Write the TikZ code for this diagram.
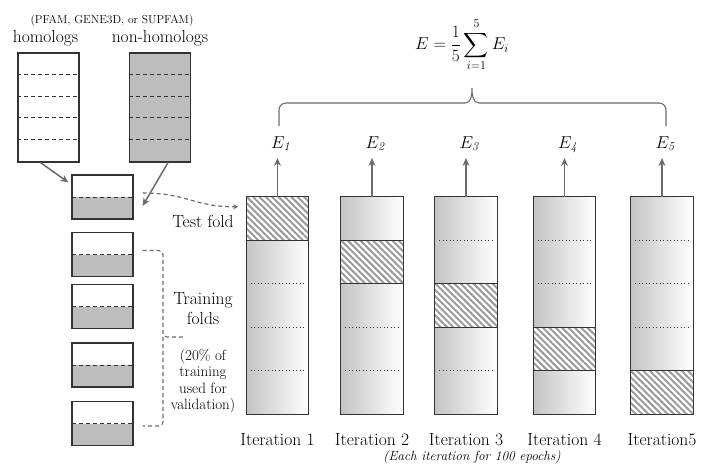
\documentclass[tikz,border=0pt]{standalone}
\usepackage{amsmath}
\usetikzlibrary{arrows.meta,patterns.meta,positioning}
\definecolor{ink}{HTML}{333333}
\definecolor{arrowgray}{HTML}{6B6B6B}
\definecolor{foldgray}{HTML}{BDBDBD}
\definecolor{colgray}{HTML}{C4C4C4}
\definecolor{hatchgray}{HTML}{9A9A9A}

\tikzset{
  txt/.style={font=\fontsize{17.5}{20}\selectfont},
  note/.style={font=\fontsize{15}{16.5}\selectfont},
  dbnote/.style={font=\fontsize{11.5}{14}\selectfont},
  epochs/.style={font=\fontsize{13.3}{15}\selectfont\itshape},
  elbl/.style={font=\fontsize{17}{18}\selectfont, inner sep=0pt, anchor=base},
  srcbox/.style={draw=ink, line width=1.2pt, minimum width=61pt, minimum height=109pt, inner sep=0pt},
  foldbox/.style={draw=ink, line width=1.2pt, minimum width=61pt, minimum height=44pt, inner sep=0pt,
    path picture={
      \fill[foldgray] (path picture bounding box.west) rectangle (path picture bounding box.south east);
      \draw[divline] (path picture bounding box.west) -- (path picture bounding box.east);}},
  divline/.style={ink, line width=0.8pt, dash pattern=on 4pt off 3pt},
  colbox/.style={minimum width=62pt, minimum height=217pt, inner sep=0pt, left color=colgray, right color=white},
  hatch/.style={pattern={Lines[angle=-45,distance=4.5pt,line width=2pt]}, pattern color=hatchgray},
  frame/.style={ink, line width=1.2pt},
  segline/.style={ink, line width=1.2pt},
  dotline/.style={ink, line width=0.9pt, dash pattern=on 1pt off 2.5pt, shorten <=4pt, shorten >=2pt},
  fetch/.style={arrowgray, line width=1.5pt, -{Stealth[length=8pt,width=7pt]}},
  testarrow/.style={arrowgray, line width=1.2pt, dash pattern=on 4pt off 3pt, -{Stealth[length=5pt,width=5pt]}},
  valbrace/.style={arrowgray, line width=1.1pt, dash pattern=on 4pt off 3pt, rounded corners=4pt},
  ebrace/.style={arrowgray, line width=1.1pt}
}

\begin{document}
\begin{tikzpicture}[x=1pt,y=-1pt]
    \useasboundingbox (0,0) rectangle (712,472);

    % source sets
    \node[dbnote] (srclbl) at (112,21) {(PFAM, GENE3D, or SUPFAM)};
    \node[txt] (homlbl) at (45.5,38) {homologs};
    \node[txt] (nonlbl) at (160,38) {non-homologs};
    \node[srcbox] (hom) at (48.5,107.5) {};
    \node[srcbox, fill=foldgray] (nonhom) at (160,107.5) {};
    \foreach \s in {hom,nonhom}
      \foreach \k in {1,...,4}
        \draw[divline] ([yshift=-\k*21.8pt]\s.north west) -- ([yshift=-\k*21.8pt]\s.north east);

    % folds
    \foreach \y [count=\k] in {197,254.5,306.5,365,423.5}
      \node[foldbox] (fold\k) at (102.5,\y) {};
    \draw[fetch] ([xshift=-8pt]hom.south) -- ([shift={(-3pt,-8pt)}]fold1.north west);
    \draw[fetch] ([xshift=8pt]nonhom.south) -- ([shift={(9pt,-9pt)}]fold1.east);

    \node[txt] (testlbl) at (203,221) {Test fold};
    \node[txt, align=center] (trainlbl) at (203,309) {Training\\folds};
    \node[note, align=center] (vallbl) at (203,381) {(20\% of\\training\\used for\\validation)};

    \coordinate (vtip) at (163,337);
    \draw[valbrace] ([shift={(9pt,4pt)}]fold2.east) -| (vtip) -- ++(20,0);
    \draw[valbrace] (vtip) |- ([shift={(9pt,-2.5pt)}]fold5.east);

    % iterations
    \coordinate (ebase) at (0,148);
    \foreach \x/\lab [count=\i] in {277.5/Iteration 1,372/Iteration 2,466/Iteration 3,564.5/Iteration 4,662/Iteration5}{
      \node[colbox] (col\i) at (\x,305.5) {};
      \path[fill=white, postaction={hatch}] (\x-31,{197+(\i-1)*43.4}) rectangle ++(62,43.4);
      \foreach \j in {1,...,4}{
        \pgfmathtruncatemacro\segoff{\i-\j}
        \ifnum\segoff=0 \draw[segline] (\x-31,{197+\j*43.4}) -- ++(62,0);
        \else\ifnum\segoff=1 \draw[segline] (\x-31,{197+\j*43.4}) -- ++(62,0);
        \else \draw[dotline] (\x-31,{197+\j*43.4}) -- ++(62,0);
        \fi\fi
      }
      \draw[frame] (col\i.north west) rectangle (col\i.south east);
      \node[txt, inner sep=0pt, below=19pt of col\i] (it\i) {\lab};
      \node[elbl, xshift=4pt] (e\i) at (col\i.north |- ebase) {$E_{\mathit{\i}}$};
      \draw[fetch] (col\i.north) -- ([yshift=-10pt]col\i.north |- ebase);
    }

    \draw[testarrow] ([shift={(9pt,4pt)}]fold1.east) .. controls +(45pt,0pt) and +(-45pt,0pt) .. ([shift={(-8pt,-10pt)}]col1.north west);

    % average over folds
    \node[font=\fontsize{18.5}{20}\selectfont] (avg) at (462,45) {$E = \dfrac{1}{5}\displaystyle\sum_{i=1}^{5} E_i$};
    \draw[ebrace] (279,126) -- (279,110) to[out=90,in=180] (286,103) -- (465,103)
      to[out=0,in=-90] (472,88) to[out=-90,in=180] (479,103) -- (659,103)
      to[out=0,in=90] (666,110) -- (666,126);

    \node[epochs] (epochlbl) at (472,457) {(Each iteration for 100 epochs)};
\end{tikzpicture}
\end{document}
